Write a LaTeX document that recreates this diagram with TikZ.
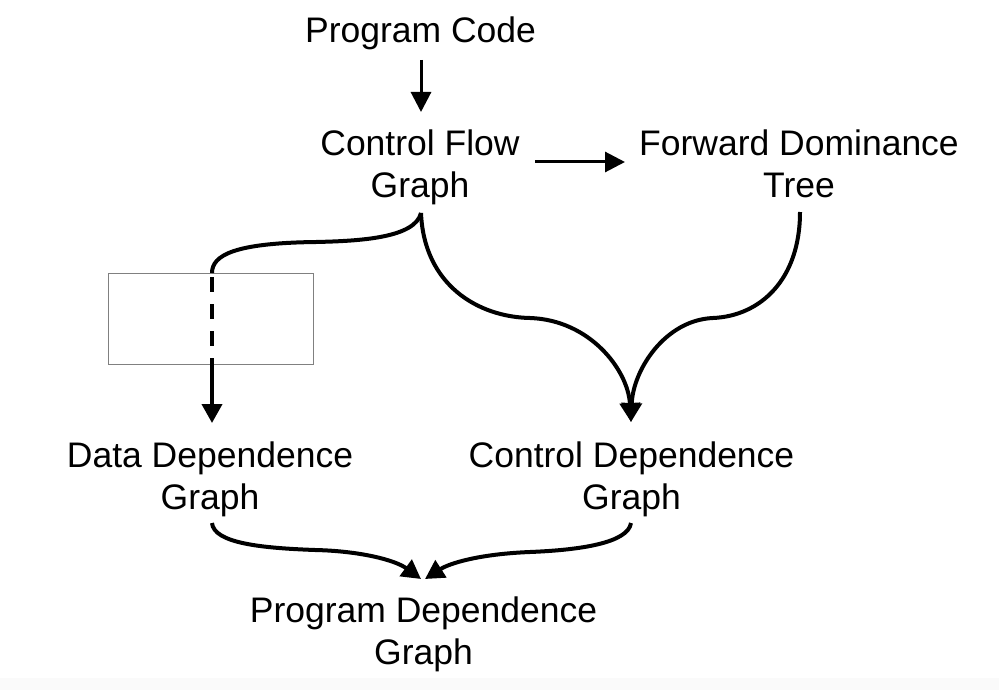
\documentclass[tikz,border=0pt]{standalone}
\usepackage{fontspec}
\setmainfont{Liberation Sans}
\usetikzlibrary{arrows.meta}
\begin{document}
\begin{tikzpicture}[x=1pt,y=-1pt,
  lbl/.style={inner sep=0pt, outer sep=0pt, align=center, font=\fontsize{35.5}{41.5}\selectfont},
  flow/.style={line width=4pt, -{Triangle[length=19pt,width=20pt]}},
  plain/.style={line width=4pt},
  straight/.style={line width=3pt, -{Triangle[length=20pt,width=20pt]}},
  frame/.style={draw=black!50, line width=1pt}]
\fill[white] (0,0) rectangle (999,690);
\fill[black!2] (0,678) rectangle (999,690);
\useasboundingbox (0,0) rectangle (999,690);

% labels
\node[lbl, anchor=base] (pc) at (420.5,43) {Program Code};
\node[lbl, anchor=north] (cfg) at (420,130) {Control Flow\\Graph};
\node[lbl, anchor=north] (fdt) at (799,130) {Forward Dominance\\Tree};
\node[lbl, anchor=north] (ddg) at (210,442) {Data Dependence\\Graph};
\node[lbl, anchor=north] (cdg) at (631.5,442) {Control Dependence\\Graph};
\node[lbl, anchor=north] (pdg) at (423.5,597) {Program Dependence\\Graph};

% connector end points
\coordinate (pcS) at (421,60);
\coordinate (cfgN) at (421,112);
\coordinate (cfgE) at (535,162);
\coordinate (fdtW) at (625,162);
\coordinate (cfgS) at (421,213);
\coordinate (fdtS) at (800,212);
\coordinate (cdgN) at (631,422);
\coordinate (ddgN) at (212,423);
\coordinate (ddgS) at (212,523);
\coordinate (cdgS) at (631,523);
\coordinate (pdgNl) at (421,579);
\coordinate (pdgNr) at (425,579);
\coordinate (boxIn) at (212,273);
\coordinate (boxOut) at (212,358);

% box
\node[frame, minimum width=205pt, minimum height=91pt, inner sep=0pt] (box) at (210.5,318.5) {};

% straight arrows
\draw[straight] (pcS) -- (cfgN);
\draw[straight] (cfgE) -- (fdtW);

% CFG -> DDG (through the box, dashed inside)
\draw[plain] (cfgS) .. controls (415,238) and (360,241) .. (316,242)
  .. controls (235,243) and (212,255) .. (boxIn);
\draw[line width=4pt, dash pattern=on 15pt off 12pt] (212,277) -- (212,347);
\draw[flow] (boxOut) -- (ddgN);

% CFG -> CDG and FDT -> CDG
\draw[flow] (cfgS) .. controls (424,285) and (478,317) .. (530,318)
  .. controls (590,320) and (628,370) .. (cdgN);
\draw[flow] (fdtS) .. controls (800,280) and (760,316) .. (713,318)
  .. controls (665,320) and (633,370) .. (cdgN);

% DDG, CDG -> PDG
\draw[flow] (ddgS) .. controls (214,543) and (260,548) .. (315,550)
  .. controls (360,551) and (395,560) .. (pdgNl);
\draw[flow] (cdgS) .. controls (628,543) and (580,550) .. (530,552)
  .. controls (480,554) and (450,563) .. (pdgNr);
\end{tikzpicture}
\end{document}
